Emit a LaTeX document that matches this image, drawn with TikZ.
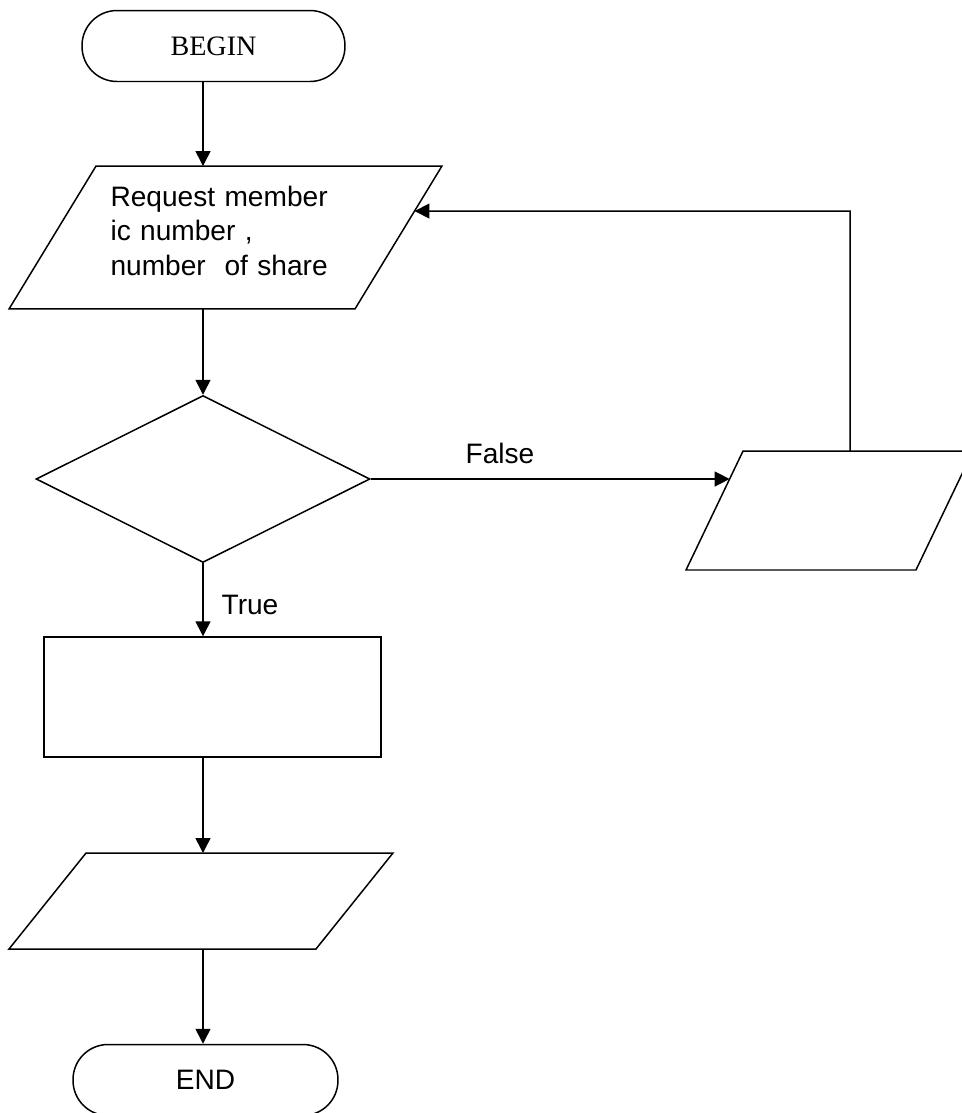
\documentclass[tikz,border=0pt]{standalone}
\usepackage{fontspec}
\setmainfont{Liberation Sans}
\newfontfamily\serifface{Liberation Serif}
\usetikzlibrary{arrows.meta, positioning, shapes.geometric, calc}

\begin{document}
\begin{tikzpicture}[x=0.02cm, y=-0.02cm, line width=0.85pt,
    font=\fontsize{16}{19.6}\selectfont,
    terminal/.style={draw, rectangle, rounded corners=0.7cm, minimum height=1.42cm},
    io/.style={rectangle, outer sep=0pt, inner sep=0pt},
    decision/.style={draw, diamond, inner sep=0pt},
    process/.style={draw, rectangle},
    flow/.style={-{Triangle[length=8.5pt, width=8.5pt]}}]
    \clip (0,0) rectangle (962,1113);

    % Start and input of member data
    \node[terminal, minimum width=5.26cm, font=\serifface\fontsize{16}{19.6}\selectfont] (begin) at (213.5,46) {BEGIN};
    \node[io, minimum width=6.92cm, minimum height=2.86cm, text width=4.6cm, text depth=47pt,
          align=left] (in1) at (225.5,237.5)
          {Request member\\ic number ,\\number\ \ of share};

    % Check
    \node[decision, minimum width=6.68cm, minimum height=3.34cm] (dec) at (203,479) {};

    % False branch
    \node[io, minimum width=4.6cm, minimum height=2.38cm] (in2) at (829.5,510.5) {};

    % True branch
    \node[process, minimum width=6.74cm, minimum height=2.4cm] (proc) at (212.5,697) {};
    \node[io, minimum width=6.14cm, minimum height=1.92cm] (out) at (201,901) {};
    \node[terminal, minimum width=5.3cm] (end) at (205.5,1080) {END};

    % Slanted sides of the parallelograms
    \foreach \n/\s in {in1/43.5, in2/28.5, out/38.5} {
        \coordinate (\n-tl) at ($(\n.north west)+(\s,0)$);
        \coordinate (\n-tr) at ($(\n.north east)+(\s,0)$);
        \coordinate (\n-br) at ($(\n.south east)-(\s,0)$);
        \coordinate (\n-bl) at ($(\n.south west)-(\s,0)$);
        \draw (\n-tl) -- (\n-tr) -- (\n-br) -- (\n-bl) -- cycle;
    }

    % Labels
    \node (lblfalse) at (500,453) {False};
    \node (lbltrue) at (250,605) {True};

    % Connectors down the main line
    \draw[flow] (begin.south -| dec.north) -- (in1.north -| dec.north);
    \draw[flow] (in1.south -| dec.north) -- (dec.north);
    \draw[flow] (dec.south) -- (proc.north -| dec.south);
    \draw[flow] (proc.south -| dec.south) -- (out.north -| dec.south);
    \draw[flow] (out.south -| dec.south) -- (end.north -| dec.south);

    % False arrow and loop back to input
    \coordinate (hit) at ($(in2-tl)!0.235!(in2-bl)$);
    \draw[flow] (dec.east) -- (dec.east -| hit);
    \coordinate (loop) at (850,211);
    \coordinate (back) at ($(in1-tr)!0.315!(in1-br)$);
    \draw[flow] (in2.north -| loop) -- (loop) -- (back);
\end{tikzpicture}
\end{document}
